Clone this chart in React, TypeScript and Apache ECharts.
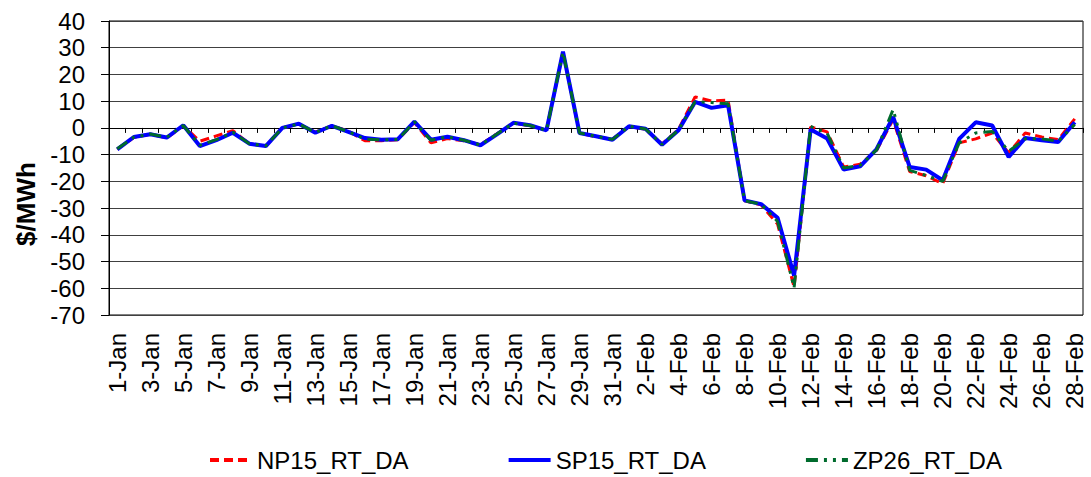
import React, { useEffect, useRef } from "react";
import * as echarts from "echarts";

const JAN: string[] = Array.from({ length: 31 }, (_, i) => `${i + 1}-Jan`);
const FEB: string[] = Array.from({ length: 28 }, (_, i) => `${i + 1}-Feb`);
const categories: string[] = [...JAN, ...FEB];

const seriesNames = ["NP15_RT_DA", "SP15_RT_DA", "ZP26_RT_DA"];

const np15: number[] = [
  -8, -3.6, -2.4, -3.8, 0.8, -5, -3, -1, -5.9, -6.8,
  0, 1.4, -1.6, 0.8, -1.2, -4.8, -4.8, -4.4, 2, -5.6,
  -4, -4.8, -6.3, -2.2, 1.8, 0.8, -0.8, 28.3, -2, -3.3,
  -4.2, 0.5, -0.5, -6, -0.5, 11.6, 10.1, 10.4, -27.3, -28.8,
  -36, -59.5, 0.4, -1.5, -14.6, -13.6, -8.4, 3.1, -16.3, -17.9,
  -20.9, -5.6, -4.1, -1.9, -9.4, -1.9, -3.4, -4.4, 3.4,
];

const sp15: number[] = [
  -8, -3.4, -2.4, -3.6, 1, -6.8, -4.6, -1.8, -5.9, -6.8,
  0, 1.6, -1.8, 0.8, -1.5, -3.8, -4.4, -4.2, 2.4, -4.4,
  -3.3, -4.6, -6.5, -2.4, 1.9, 1.0, -0.9, 28.5, -1.9, -3.1,
  -4.4, 0.6, -0.3, -6.3, -0.9, 9.7, 7.5, 8.5, -27.1, -28.5,
  -33.6, -55.3, -0.6, -4, -15.6, -14.4, -7.9, 4.1, -14.6, -15.6,
  -19.6, -4.1, 2.1, 0.9, -10.9, -3.75, -4.6, -5.25, 2.1,
];

const zp26: number[] = [
  -7.8, -3.5, -2.3, -3.5, 0.9, -6.5, -4.4, -1.6, -5.9, -6.7,
  0, 1.5, -1.7, 0.8, -1.4, -4.2, -4.5, -4.3, 2.3, -4.6,
  -3.3, -4.6, -6.4, -2.3, 1.8, 0.9, -0.9, 28.4, -1.9, -3.1,
  -4.3, 0.6, -0.4, -6.2, -0.8, 9.8, 9.5, 9.0, -27.2, -28.6,
  -35, -59.8, 0.6, -2, -15, -14, -8.2, 6.9, -15.9, -17.8,
  -20, -5.6, -1.9, -1.3, -8.75, -4.1, -4.1, -5, 1.25,
];

const yMin = -70;
const yMax = 40;
const yStep = 10;

const FONT = "'Liberation Sans', Arial, sans-serif";

export default function App() {
  const ref = useRef<HTMLDivElement>(null);

  useEffect(() => {
    if (!ref.current) return;
    const chart = echarts.init(ref.current, null, { renderer: "svg" });
    chart.setOption({
      animation: false,
      backgroundColor: "#ffffff",
      textStyle: { fontFamily: FONT, color: "#000" },
      grid: {
        left: 109,
        right: 8,
        top: 21,
        bottom: 162,
        containLabel: false,
        show: true,
        borderColor: "#000",
        borderWidth: 1,
      },
      legend: {
        left: 203,
        top: 443,
        itemGap: 98,
        itemWidth: 42,
        itemHeight: 14,
        itemStyle: { opacity: 0 },
        lineStyle: { width: 4 },
        textStyle: { fontFamily: FONT, fontSize: 24, color: "#000" },
        data: seriesNames,
      },
      xAxis: [
        {
          type: "category",
          data: categories,
          position: "bottom",
          boundaryGap: true,
          axisLine: { show: false, onZero: false },
          axisTick: { show: false },
          splitLine: { show: false },
          axisLabel: {
            interval: 1,
            rotate: 90,
            margin: 18,
            fontSize: 24,
            fontFamily: FONT,
            color: "#000",
          },
        },
        {
          type: "category",
          data: categories,
          position: "bottom",
          boundaryGap: true,
          axisLine: { show: true, onZero: true, lineStyle: { color: "#000", width: 1 } },
          axisTick: { show: true, interval: 0, length: 5, lineStyle: { color: "#000" } },
          axisLabel: { show: false },
          splitLine: { show: false },
        },
      ],
      yAxis: {
        type: "value",
        min: yMin,
        max: yMax,
        interval: yStep,
        name: "$/MWh",
        nameLocation: "middle",
        nameRotate: 90,
        nameGap: 70,
        nameTextStyle: {
          fontFamily: FONT,
          fontSize: 26,
          fontWeight: "bold",
          color: "#000",
          padding: [0, 72, 0, 0],
        },
        axisLine: { show: true, lineStyle: { color: "#000", width: 1 } },
        axisTick: { show: true, length: 8, lineStyle: { color: "#000" } },
        axisLabel: { margin: 24, fontSize: 24, fontFamily: FONT, color: "#000" },
        splitLine: { show: true, lineStyle: { color: "#404040", width: 1 } },
      },
      series: [
        {
          name: seriesNames[0],
          type: "line",
          data: np15,
          symbol: "none",
          color: "#ff0000",
          lineStyle: { color: "#ff0000", width: 3, type: [9, 5] },
        },
        {
          name: seriesNames[1],
          type: "line",
          data: sp15,
          symbol: "none",
          color: "#0000ff",
          lineStyle: { color: "#0000ff", width: 4, type: "solid" },
        },
        {
          name: seriesNames[2],
          type: "line",
          data: zp26,
          symbol: "none",
          color: "#006b2d",
          lineStyle: { color: "#006b2d", width: 3, type: [12, 6, 3, 6, 3, 6] },
        },
      ],
    });
    return () => chart.dispose();
  }, []);

  return (
    <div
      ref={ref}
      style={{ position: "fixed", left: 0, top: 0, width: 1091, height: 477 }}
    />
  );
}
